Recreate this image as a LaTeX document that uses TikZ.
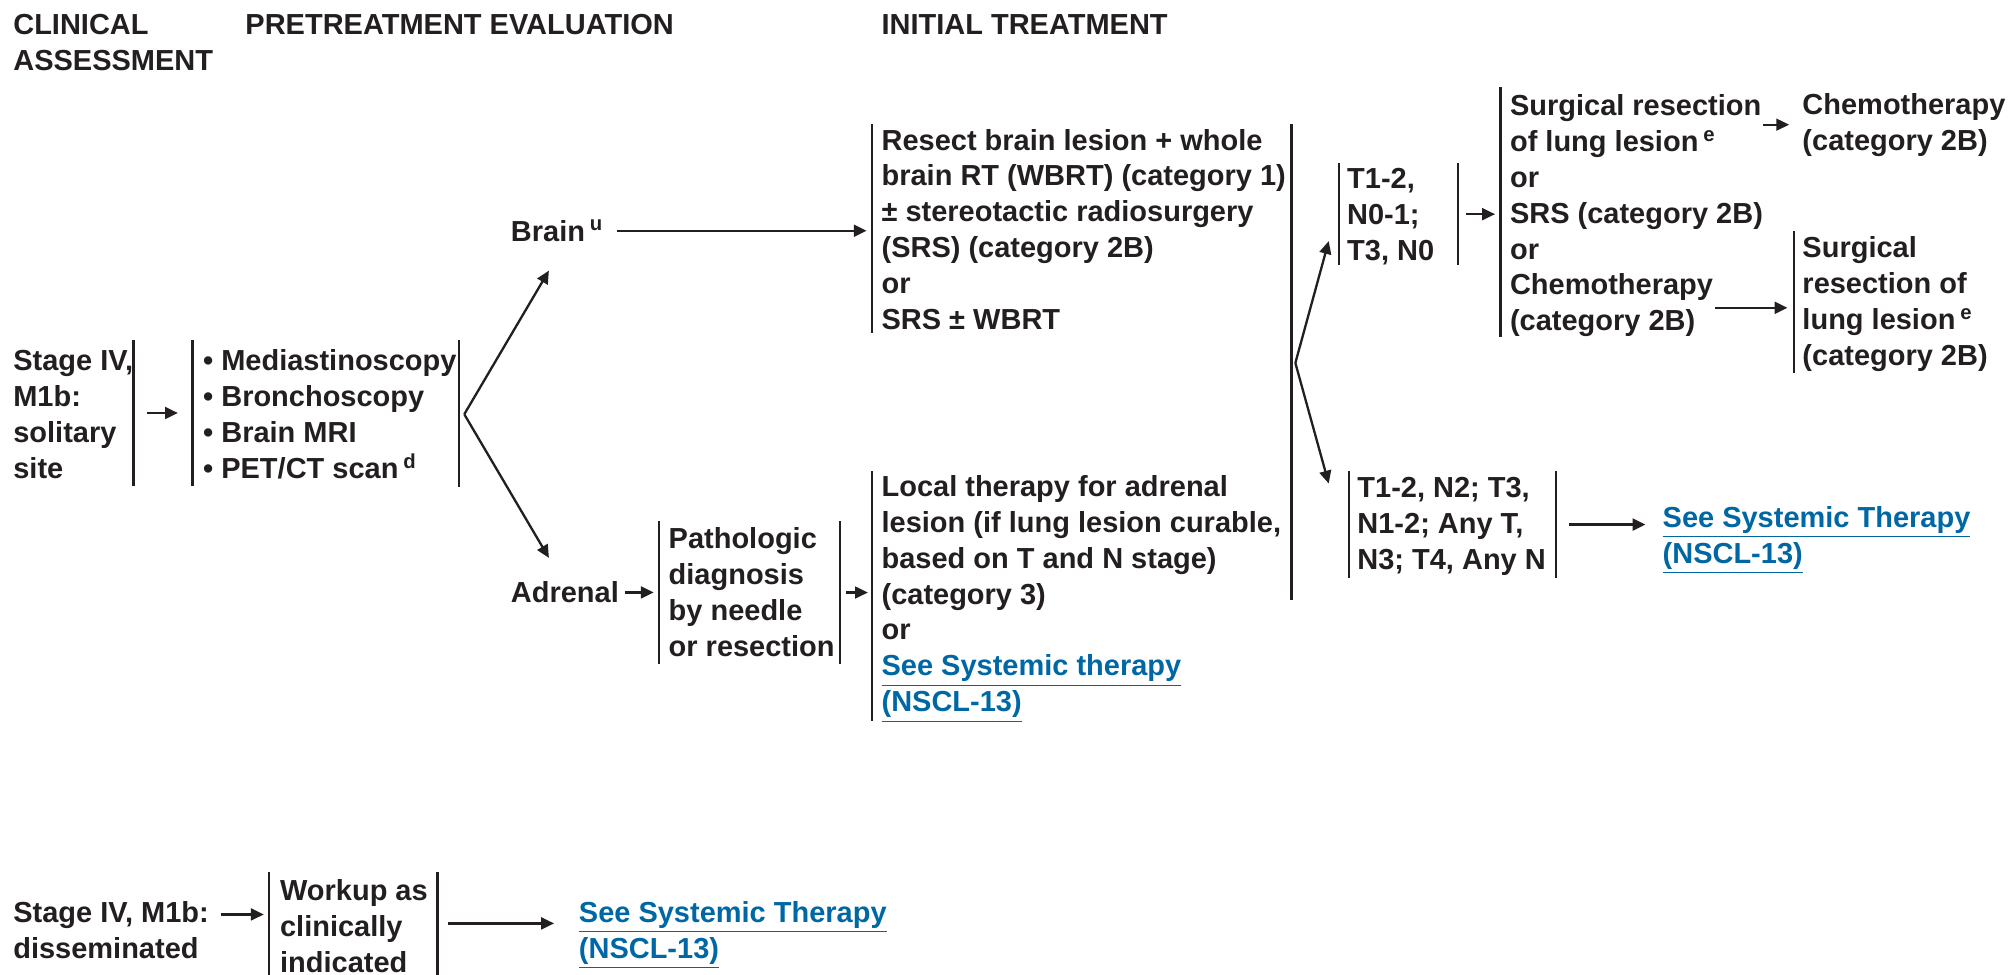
\documentclass[tikz,border=0pt]{standalone}
\usepackage{fontspec}
\setmainfont{Liberation Sans}
\usetikzlibrary{arrows.meta,calc}
\definecolor{ink}{RGB}{35,31,32}
\definecolor{nccnblue}{RGB}{0,103,165}
\newcommand{\lnk}[1]{\textcolor{nccnblue}{\underline{#1}}}
\begin{document}
\begin{tikzpicture}[x=0.5pt,y=-0.5pt,
  every node/.style={font=\bfseries\fontsize{11.3pt}{14pt}\selectfont, text=ink, inner sep=0pt, align=left},
  arr/.style={-{Triangle[length=5pt,width=4.6pt]}, line width=0.9pt, draw=ink},
  vbar/.style={fill=ink, draw=none, inner sep=0pt, minimum width=0.9pt, minimum height=#1*0.5pt}]
\useasboundingbox (0,0) rectangle (1568,760);
% headers (anchor = baseline of last line)
\node[anchor=base west] (hclin) at (10,55) {CLINICAL\\ASSESSMENT};
\node[anchor=base west] (hpre) at (191,27) {PRETREATMENT EVALUATION};
\node[anchor=base west] (hinit) at (687,27) {INITIAL TREATMENT};
% solitary
\node[anchor=base west] (stage) at (10,373) {Stage IV,\\M1b:\\solitary\\site};
\node[vbar=114] (b1) at (104,322) {};
\node[vbar=114] (b2) at (150,322) {};
\node[anchor=base west] (pre) at (158,373) {• Mediastinoscopy\\• Bronchoscopy\\• Brain MRI\\• PET/CT scan\,\textsuperscript{d}};
\node[vbar=115] (b3) at (358,322.5) {};
\coordinate (f1) at (362,323);
\coordinate (brainin) at (428,211);
\coordinate (adrin) at (428,435);
\node[anchor=base west] (brain) at (398,188) {Brain\,\textsuperscript{u}};
\node[anchor=base west] (adrenal) at (398,470) {Adrenal};
\node[vbar=163] (b4) at (680,178.5) {};
\node[anchor=base west] (treat1) at (687,257) {Resect brain lesion + whole\\brain RT (WBRT) (category 1)\\± stereotactic radiosurgery\\(SRS) (category 2B)\\or\\SRS ± WBRT};
\node[vbar=112] (b5) at (514,462) {};
\node[anchor=base west] (path) at (521,512) {Pathologic\\diagnosis\\by needle\\or resection};
\node[vbar=112] (b6) at (655,462) {};
\node[vbar=195] (b7) at (680,464.5) {};
\node[anchor=base west] (treat2) at (687,555) {Local therapy for adrenal\\lesion (if lung lesion curable,\\based on T and N stage)\\(category 3)\\or\\\lnk{See Systemic therapy}\\\lnk{(NSCL-13)}};
\node[vbar=371] (b8) at (1007,282.5) {};
\coordinate (f2) at (1010,283);
\coordinate (t12in) at (1036,188);
\coordinate (t12n2in) at (1036,377);
\node[vbar=80] (b9) at (1044,167) {};
\node[anchor=base west] (t12) at (1050,203) {T1-2,\\N0-1;\\T3, N0};
\node[vbar=80] (b10) at (1137,167) {};
\node[vbar=195] (b11) at (1170,165.5) {};
\node[anchor=base west] (opts) at (1177,258) {Surgical resection\\of lung lesion\,\textsuperscript{e}\\or\\SRS (category 2B)\\or\\Chemotherapy\\(category 2B)};
\node[anchor=base west] (chemo) at (1405,117) {Chemotherapy\\(category 2B)};
\node[vbar=111] (b12) at (1399,235.5) {};
\node[anchor=base west] (surg) at (1405,285) {Surgical\\resection of\\lung lesion\,\textsuperscript{e}\\(category 2B)};
\node[vbar=84] (b13) at (1052,409) {};
\node[anchor=base west] (t12n2) at (1058,444) {T1-2, N2; T3,\\N1-2; Any T,\\N3; T4, Any N};
\node[vbar=84] (b14) at (1213,409) {};
\node[anchor=base west] (link1) at (1296,439) {\lnk{See Systemic Therapy}\\\lnk{(NSCL-13)}};
% disseminated
\node[anchor=base west] (stage2) at (10,747) {Stage IV, M1b:\\disseminated};
\node[vbar=80] (b15) at (210,720) {};
\node[anchor=base west] (workup) at (218,758) {Workup as\\clinically\\indicated};
\node[vbar=80] (b16) at (341,720) {};
\node[anchor=base west] (link2) at (451,747) {\lnk{See Systemic Therapy}\\\lnk{(NSCL-13)}};
\coordinate (s2a) at (172,713);
\coordinate (c2) at (1337,240);
% connectors
\draw[arr, shorten <=4.5pt, shorten >=5pt] (b1) -- (b2);
\draw[arr] (f1) -- (brainin);
\draw[arr] (f1) -- (adrin);
\draw[arr, shorten <=5pt, shorten >=1.5pt] (brain.east) -- (brain.east -| b4.west);
\draw[arr, shorten <=2pt, shorten >=1.5pt] (adrenal.east) -- (adrenal.east -| b5.west);
\draw[arr, shorten <=1.5pt, shorten >=1pt] (b6) -- (b6 -| b7.west);
\draw[arr] (f2) -- (t12in);
\draw[arr] (f2) -- (t12n2in);
\draw[arr, shorten <=2.5pt, shorten >=1.5pt] (b10) -- (b10 -| b11.west);
\draw[arr, shorten >=5pt] (opts.east |- chemo.west) -- (chemo.west);
\draw[arr, shorten >=2pt] (c2) -- (c2 -| b12.west);
\draw[arr, shorten <=4.5pt, shorten >=6.5pt] (b14) -- (b14 -| link1.west);
\draw[arr, shorten >=1.5pt] (s2a) -- (s2a -| b15.west);
\draw[arr, shorten <=3.5pt, shorten >=9.5pt] (b16) -- (b16 -| link2.west);
\end{tikzpicture}
\end{document}
